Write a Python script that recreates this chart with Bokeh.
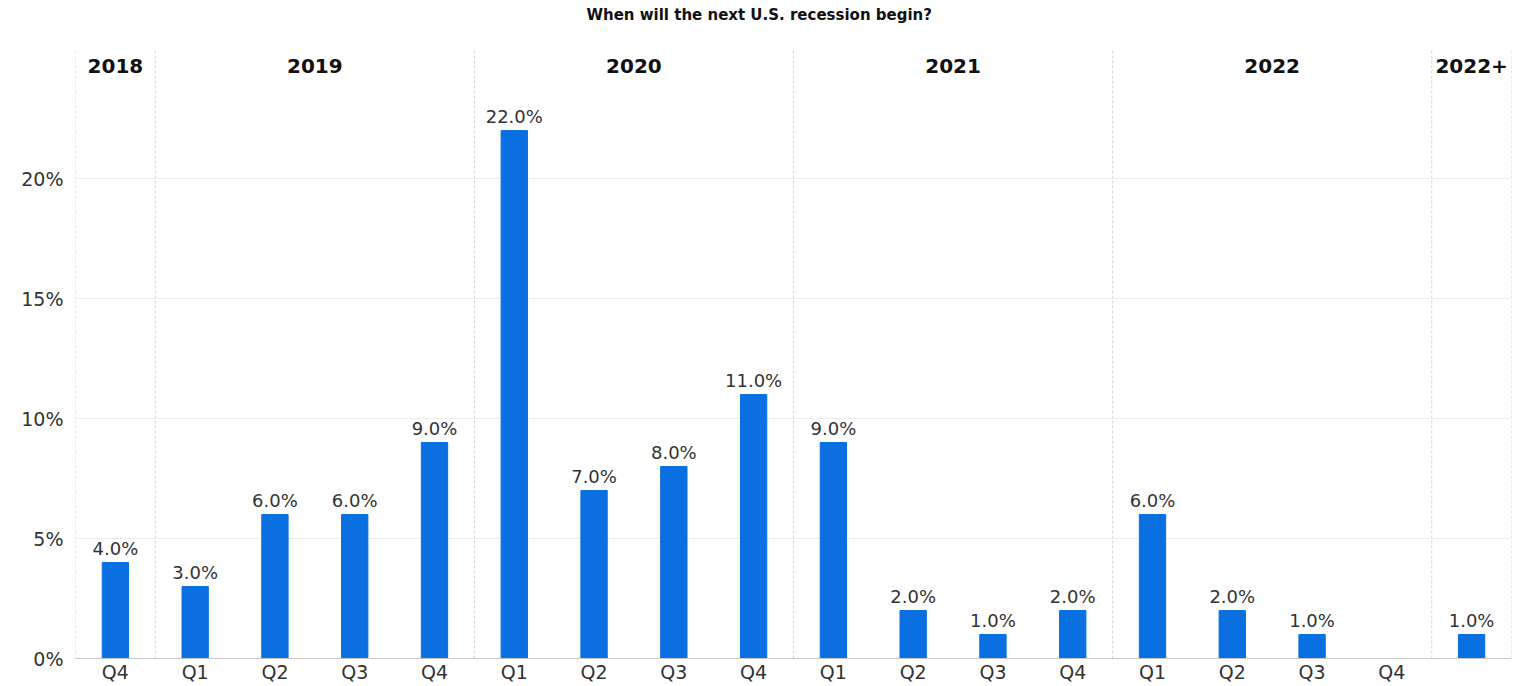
import numpy as np
from bokeh.plotting import figure
from bokeh.models import ColumnDataSource, FixedTicker, PrintfTickFormatter, Range1d
from bokeh.core.properties import value
from bokeh.embed import file_html
from bokeh.resources import INLINE

title_text = "When will the next U.S. recession begin?"
years = ["2018", "2019", "2020", "2021", "2022", "2022+"]
quarters_per_year = [1, 4, 4, 4, 4, 1]
quarter_labels = ["Q4",
                  "Q1", "Q2", "Q3", "Q4",
                  "Q1", "Q2", "Q3", "Q4",
                  "Q1", "Q2", "Q3", "Q4",
                  "Q1", "Q2", "Q3", "Q4",
                  ""]
shares = [4, 3, 6, 6, 9, 22, 7, 8, 11, 9, 2, 1, 2, 6, 2, 1, 0, 1]
y_ticks = [0, 5, 10, 15, 20]

FONT = "DejaVu Sans"
BAR = "#0a6fe0"
TXT = "#333333"

n = len(shares)
x = np.arange(n) + 0.5
labels = [f"{v:.1f}%" if v > 0 else "" for v in shares]
src = ColumnDataSource(dict(x=x, v=shares, lbl=labels))

Y_TOP = 27.42      # top of the canvas area (includes title band)
SEP_TOP = 25.33    # where the year separators start
HEAD_Y = 24.7
TITLE_Y = 26.83

p = figure(width=1517, height=686, output_backend="svg", toolbar_location=None,
           x_range=Range1d(0, n), y_range=Range1d(0, Y_TOP),
           min_border_left=75, min_border_right=6, min_border_top=0,
           min_border_bottom=28)
p.outline_line_color = None
p.background_fill_color = "white"
p.border_fill_color = "white"
p.title.visible = False

# grid
p.xgrid.visible = False
p.ygrid.ticker = FixedTicker(ticks=y_ticks[1:])
p.ygrid.grid_line_color = "#eeeeee"

# separators between years
bounds = np.concatenate([[0], np.cumsum(quarters_per_year)]).astype(float)
p.segment(x0=bounds, y0=[0] * len(bounds), x1=bounds, y1=[SEP_TOP] * len(bounds),
          line_color="#d6d6d6", line_width=1, line_dash="3 2")

# title
p.text(x=[n / 2 - 0.43], y=[TITLE_Y], text=[title_text], text_align="center",
       text_baseline="middle", text_font=value(FONT), text_font_size="15px",
       text_font_style="bold", text_color="#111111")

p.vbar(x="x", top="v", width=0.33, color=BAR, source=src)
p.text(x="x", y="v", text="lbl", source=src, text_align="center",
       text_baseline="bottom", y_offset=-4, text_font=value(FONT),
       text_font_size="18px", text_color=TXT)

centers = bounds[:-1] + np.array(quarters_per_year) / 2
hsrc = ColumnDataSource(dict(x=centers, y=[HEAD_Y] * len(years), t=years))
p.text(x="x", y="y", text="t", source=hsrc, text_align="center",
       text_baseline="middle", text_font=value(FONT), text_font_size="20px",
       text_font_style="bold", text_color="#111111")

# axes
p.xaxis.ticker = FixedTicker(ticks=list(x))
p.xaxis.major_label_overrides = {float(xi): q for xi, q in zip(x, quarter_labels)}
p.xaxis.axis_line_color = "#c8c8c8"
p.xaxis.major_tick_line_color = None
p.xaxis.minor_tick_line_color = None
p.xaxis.major_tick_out = 0
p.xaxis.major_tick_in = 0
p.xaxis.minor_tick_out = 0
p.xaxis.major_label_standoff = 2
p.xaxis.major_label_text_font = FONT
p.xaxis.major_label_text_font_size = "19px"
p.xaxis.major_label_text_color = TXT

p.yaxis.ticker = FixedTicker(ticks=y_ticks)
p.yaxis.formatter = PrintfTickFormatter(format="%d%%")
p.yaxis.axis_line_color = None
p.yaxis.major_tick_line_color = None
p.yaxis.minor_tick_line_color = None
p.yaxis.major_tick_out = 0
p.yaxis.major_tick_in = 0
p.yaxis.minor_tick_out = 0
p.yaxis.major_label_standoff = 12
p.yaxis.major_label_text_font = FONT
p.yaxis.major_label_text_font_size = "19px"
p.yaxis.major_label_text_color = TXT

open("out.html", "w").write(file_html(p, INLINE))
